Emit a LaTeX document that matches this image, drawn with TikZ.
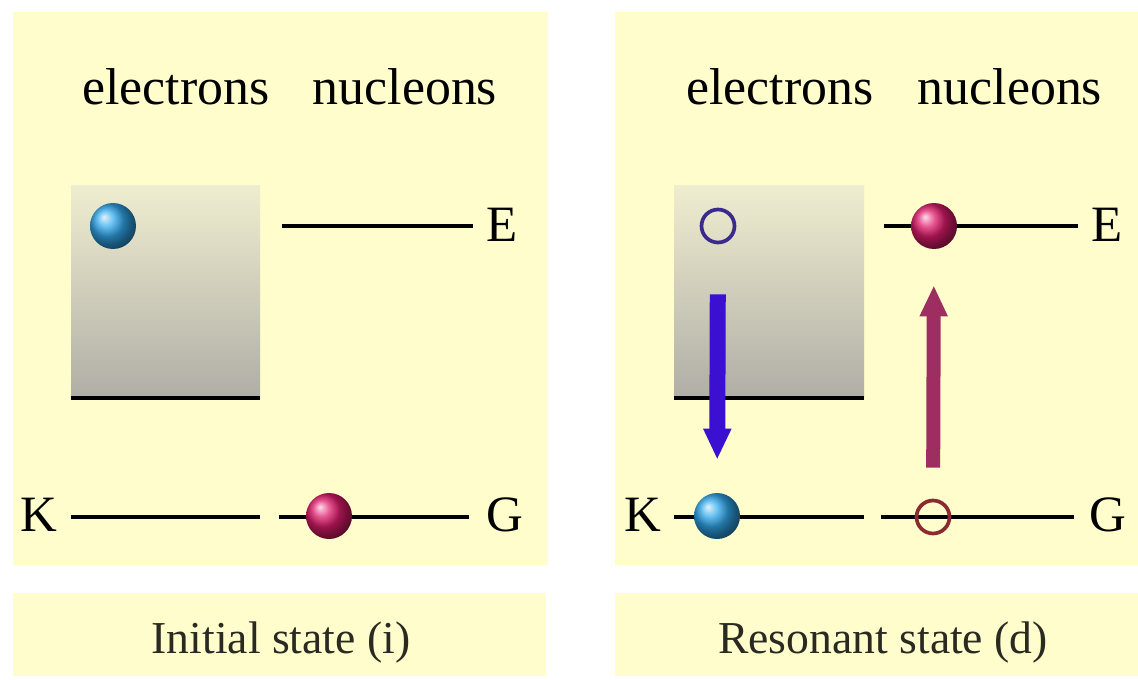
\documentclass[tikz,border=0pt]{standalone}
\usepackage{fontspec}
\setmainfont{Liberation Serif}
\usetikzlibrary{arrows.meta, positioning, shapes.geometric}
\definecolor{panelbg}{HTML}{FEFDCB}
\definecolor{boxtop}{HTML}{EFEDCF}
\definecolor{boxbot}{HTML}{B0AEA6}
\definecolor{elblue}{HTML}{30A8EC}
\definecolor{nucred}{HTML}{E01C6C}
\definecolor{holeblue}{HTML}{3A2A8C}
\definecolor{holered}{HTML}{8C2A32}
\definecolor{arrblue}{HTML}{3C10D0}
\definecolor{arrred}{HTML}{9E2E62}
\definecolor{captext}{HTML}{2A2A22}

\begin{document}
\begin{tikzpicture}[x=0.02cm, y=-0.02cm,
    panel/.style={fill=panelbg, draw=none},
    head/.style={font=\fontsize{29.5}{32}\selectfont, anchor=base},
    lvl/.style={font=\fontsize{29}{32}\selectfont, inner sep=0pt},
    caption/.style={font=\fontsize{26}{30}\selectfont, text=captext, anchor=base},
    level/.style={line width=2.2pt, line cap=butt},
    ball/.style={circle, inner sep=0pt, minimum size=0.92cm, shading=ball, ball color=#1},
    hole/.style={circle, inner sep=0pt, minimum size=0.66cm, draw=#1, line width=2.1pt},
    jump/.style={line width=#1, -{Triangle[width=0.52cm, length=0.62cm]}}
]
\useasboundingbox (0,0) rectangle (1138,679);

% panels
\fill[panel] (13,12) rectangle (548,565);
\fill[panel] (13,593) rectangle (546,676);
\fill[panel] (615,12) rectangle (1138,565);
\fill[panel] (615,593) rectangle (1138,676);

% initial state (i)
\node[head] (elecL) at (176,105) {electrons};
\node[head] (nucL)  at (405,105) {nucleons};
\shade[top color=boxtop, bottom color=boxbot] (71,185) rectangle (260,398);
\draw[level] (71,398) -- (260,398);
\coordinate (ei1) at (282,226); \coordinate (ei2) at (473,226);
\coordinate (ki1) at (71,517);  \coordinate (ki2) at (260,517);
\coordinate (gi1) at (279,517); \coordinate (gi2) at (469,517);
\draw[level] (ei1) -- (ei2);
\draw[level] (ki1) -- (ki2);
\draw[level] (gi1) -- (gi2);
\node[lvl] (Ei) at (502,225) {E};
\node[lvl] (Ki) at (39,515)  {K};
\node[lvl] (Gi) at (505,515) {G};
\node[ball=elblue] (elecI) at (113,226) {};
\node[ball=nucred] (nucI)  at (329,516) {};
\node[caption] (capI) at (281,653) {Initial state (i)};

% resonant state (d)
\node[head] (elecR) at (780,105)  {electrons};
\node[head] (nucR)  at (1010,105) {nucleons};
\shade[top color=boxtop, bottom color=boxbot] (674,185) rectangle (864,398);
\draw[level] (674,398) -- (864,398);
\coordinate (ed1) at (884,226); \coordinate (ed2) at (1078,226);
\coordinate (kd1) at (674,517); \coordinate (kd2) at (864,517);
\coordinate (gd1) at (881,517); \coordinate (gd2) at (1074,517);
\draw[level] (ed1) -- (ed2);
\draw[level] (kd1) -- (kd2);
\draw[level] (gd1) -- (gd2);
\node[lvl] (Ed) at (1107,225) {E};
\node[lvl] (Kd) at (643,515)  {K};
\node[lvl] (Gd) at (1108,515) {G};
\node[hole=holeblue] (holeD) at (718,226) {};
\node[ball=nucred]   (nucD)  at (934,226) {};
\node[ball=elblue]   (elecD) at (717,516) {};
\node[hole=holered]  (gapD)  at (933,517) {};
\draw[jump=0.32cm, arrblue, shorten <=1.0cm, shorten >=0.66cm] (holeD) -- (elecD);
\draw[jump=0.28cm, arrred, shorten <=0.62cm, shorten >=0.72cm] (gapD) -- (nucD);
\node[caption] (capD) at (883,653) {Resonant state (d)};
\end{tikzpicture}
\end{document}
